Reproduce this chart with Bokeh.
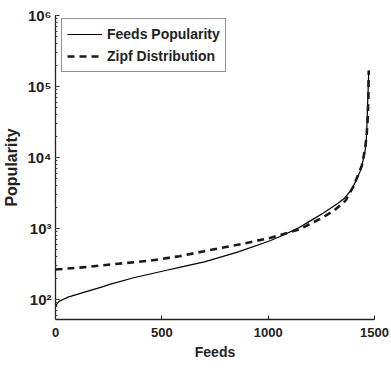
from bokeh.plotting import figure
from bokeh.models import Range1d, Legend, LegendItem, FixedTicker, CustomJSTickFormatter
from bokeh.embed import file_html
from bokeh.resources import INLINE

# Feeds Popularity (solid)
feeds_x = [0, 8, 20, 59, 137, 216, 255, 372, 450, 528, 583, 700, 856, 1012, 1080, 1140,
           1200, 1260, 1325, 1356, 1388, 1415, 1434, 1446, 1455, 1461, 1464, 1467, 1470, 1473]
feeds_y = [78, 88, 95, 108, 127, 149, 163, 204, 230, 260, 283, 338, 464, 676, 830, 1010,
           1290, 1650, 2230, 2620, 3400, 4800, 6560, 9000, 12000, 17000, 25000, 50000, 90000, 168000]

# Zipf Distribution (dashed)
zipf_x = [0, 137, 294, 450, 583, 700, 856, 1012, 1100, 1153, 1247, 1309, 1364, 1400,
          1440, 1455, 1463, 1468, 1471, 1473]
zipf_y = [264, 285, 318, 354, 407, 479, 588, 740, 880, 990, 1380, 1780, 2470, 3860,
          7600, 12800, 20600, 35000, 64600, 168000]

x_ticks = [0, 500, 1000, 1500]

FONT = "Liberation Sans"

p = figure(width=391, height=369, y_axis_type="log", output_backend="svg",
           toolbar_location=None, x_range=Range1d(0, 1500), y_range=Range1d(52.2, 1e6),
           min_border_left=54, min_border_right=17, min_border_top=15, min_border_bottom=50)

p.outline_line_color = None
p.xgrid.visible = False
p.ygrid.visible = False
p.background_fill_color = "white"
p.border_fill_color = "white"

l1 = p.line(feeds_x, feeds_y, line_color="black", line_width=1.2)
l2 = p.line(zipf_x, zipf_y, line_color="#1a1a1a", line_width=2.6, line_dash="7 5")

p.xaxis.ticker = FixedTicker(ticks=x_ticks)
p.yaxis.formatter = CustomJSTickFormatter(code="""
const sup = {"0":"\u2070","1":"\u00b9","2":"\u00b2","3":"\u00b3","4":"\u2074","5":"\u2075","6":"\u2076","7":"\u2077","8":"\u2078","9":"\u2079"};
const e = Math.round(Math.log10(tick));
return "10" + String(e).split("").map(c => sup[c]).join("");
""")
p.xaxis.axis_label = "Feeds"
p.yaxis.axis_label = "Popularity"
for ax in (p.xaxis[0], p.yaxis[0]):
    ax.axis_line_color = "#222222"
    ax.axis_line_width = 1.3
    ax.major_tick_in = 4
    ax.major_tick_out = 0
    ax.minor_tick_in = 2
    ax.minor_tick_out = 0
    ax.major_tick_line_color = "#222222"
    ax.minor_tick_line_color = "#444444"
    ax.major_label_text_font = FONT
    ax.major_label_text_font_style = "bold"
    ax.major_label_text_color = "#222222"
    ax.axis_label_text_font = FONT
    ax.axis_label_text_font_style = "bold"
    ax.axis_label_text_color = "#222222"
p.xaxis.major_label_text_font_size = "13px"
p.yaxis.major_label_text_font_size = "15px"
p.xaxis.axis_label_text_font_size = "14px"
p.yaxis.axis_label_text_font_size = "16px"
p.xaxis.major_label_standoff = 8
p.xaxis.axis_label_standoff = 4
p.yaxis.major_label_standoff = 4
p.yaxis.axis_label_standoff = 4

legend = Legend(items=[LegendItem(label="Feeds Popularity", renderers=[l1]),
                       LegendItem(label="Zipf Distribution", renderers=[l2])],
                location=(6, 247))
legend.label_text_font = FONT
legend.label_text_font_style = "bold"
legend.label_text_font_size = "14px"
legend.label_text_color = "#222222"
legend.glyph_width = 35
legend.glyph_height = 20
legend.label_height = 20
legend.label_standoff = 5
legend.spacing = 2
legend.padding = 5
legend.margin = 0
legend.border_line_color = "#222222"
legend.border_line_width = 1.3
legend.background_fill_alpha = 1
p.add_layout(legend)

open("out.html", "w").write(file_html(p, INLINE))
